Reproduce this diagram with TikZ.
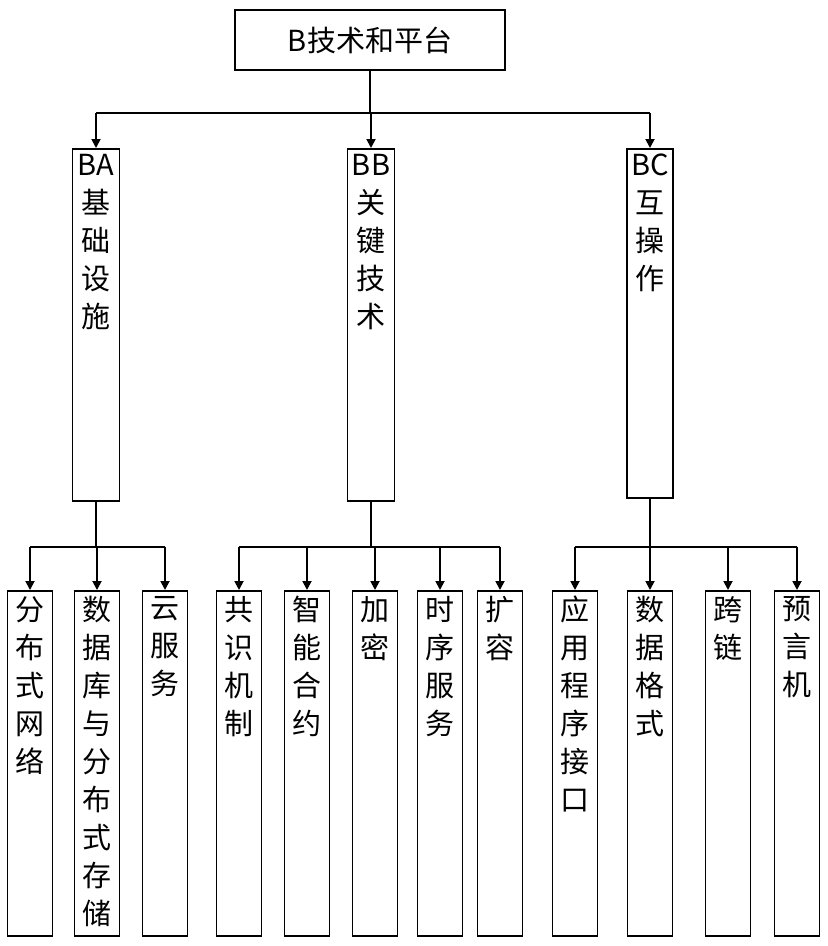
\documentclass[tikz,border=0pt]{standalone}
\usepackage{fontspec}
\setmainfont{Noto Sans CJK SC}
\usetikzlibrary{arrows.meta,positioning}
\tikzset{>={Triangle[length=9pt,width=9pt]},
  box/.style={draw,line width=1.6pt,inner sep=0pt},
  lbl/.style={anchor=north,align=center,font=\fontsize{29}{38}\selectfont,inner sep=0pt,yshift=-6pt},
  link/.style={line width=1.8pt}}
\begin{document}
\begin{tikzpicture}[x=1pt,y=-1pt]
\useasboundingbox (0,0) rectangle (828,946);
% top
\node[box,minimum width=270pt,minimum height=60pt,font=\fontsize{29}{36}\selectfont] (top) at (370,40) {B技术和平台};
% second level
\node[box,minimum width=47pt,minimum height=352pt,anchor=north] (ba) at (96,148) {};
\node[box,minimum width=47pt,minimum height=352pt,anchor=north] (bb) at (371,148) {};
\node[box,minimum width=46pt,minimum height=349pt,anchor=north] (bc) at (650,148) {};
\node[lbl] at (ba.north) {BA\\基\\础\\设\\施};
\node[lbl] at (bb.north) {BB\\关\\键\\技\\术};
\node[lbl] at (bc.north) {BC\\互\\操\\作};
% leaves
\foreach \n/\x/\t in {l1/30/{分\\布\\式\\网\\络}, l2/97/{数\\据\\库\\与\\分\\布\\式\\存\\储}, l3/165/{云\\服\\务},
  l4/239/{共\\识\\机\\制}, l5/307/{智\\能\\合\\约}, l6/375/{加\\密}, l7/440/{时\\序\\服\\务}, l8/500/{扩\\容},
  l9/575/{应\\用\\程\\序\\接\\口}, l10/650/{数\\据\\格\\式}, l11/728/{跨\\链}, l12/797/{预\\言\\机}}{
  \node[box,minimum width=45pt,minimum height=345pt,anchor=north] (\n) at (\x,590) {};
  \node[lbl] at (\n.north) {\t};
}
% connectors
\draw[link] (top.south) -- ++(0,42) coordinate (j0);
\draw[link] (j0 -| ba) -- (j0 -| bc);
\foreach \b in {ba,bb,bc} \draw[link,->] (j0 -| \b) -- (\b.north);
\draw[link] (ba.south) -- ++(0,45) coordinate (ja);
\draw[link] (bb.south) -- ++(0,45) coordinate (jb);
\draw[link] (bc.south) -- ++(0,48) coordinate (jc);
\draw[link] (ja -| l1) -- (ja -| l3);
\draw[link] (jb -| l4) -- (jb -| l8);
\draw[link] (jc -| l9) -- (jc -| l12);
\foreach \n in {l1,l2,l3} \draw[link,->] (ja -| \n) -- (\n.north);
\foreach \n in {l4,l5,l6,l7,l8} \draw[link,->] (jb -| \n) -- (\n.north);
\foreach \n in {l9,l10,l11,l12} \draw[link,->] (jc -| \n) -- (\n.north);
\end{tikzpicture}
\end{document}
